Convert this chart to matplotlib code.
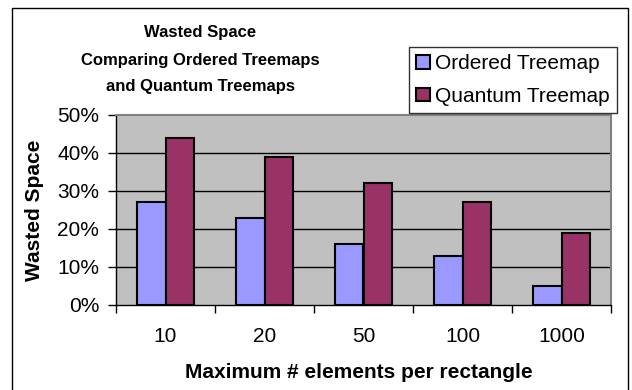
import matplotlib
matplotlib.use("Agg")
import matplotlib.pyplot as plt
import numpy as np
from matplotlib.patches import Rectangle

plt.rcParams['font.family'] = ['Liberation Sans', 'DejaVu Sans']

categories = ["10", "20", "50", "100", "1000"]
ordered = [27, 23, 16, 13, 5]
quantum = [44, 39, 32, 27, 19]
yticks = [0, 10, 20, 30, 40, 50]

W, H = 632, 390
fig = plt.figure(figsize=(W / 100, H / 100), dpi=100)
ax = fig.add_axes([116 / W, 1 - 305 / H, 495 / W, 190 / H])

x = np.arange(len(categories))
width = 0.285
ax.bar(x - width / 2, ordered, width, color="#9999FF", edgecolor="black",
       linewidth=1.5, label="Ordered Treemap", zorder=3)
ax.bar(x + width / 2, quantum, width, color="#993366", edgecolor="black",
       linewidth=1.5, label="Quantum Treemap", zorder=3)

ax.set_facecolor("#C0C0C0")
ax.set_xlim(-0.5, len(categories) - 0.5)
ax.set_ylim(0, 50)
ax.set_yticks(yticks, [f"{v}%" for v in yticks], fontsize=15)
for v in yticks[1:-1]:
    ax.axhline(v, color="black", linewidth=1, zorder=1)

# category ticks at the boundaries, labels in the middle
ax.set_xticks(np.arange(len(categories) + 1) - 0.5)
ax.set_xticklabels([])
ax.set_xticks(x, categories, minor=True, fontsize=15)
ax.tick_params(axis="x", which="minor", length=0, pad=16)
ax.tick_params(axis="x", which="major", length=6, width=1)
ax.tick_params(axis="y", length=6, width=1, pad=6)

for side in ["top", "right"]:
    ax.spines[side].set_color("#808080")
    ax.spines[side].set_linewidth(1.5)
for side in ["left", "bottom"]:
    ax.spines[side].set_color("black")
    ax.spines[side].set_linewidth(1)

ax.set_ylabel("Wasted Space", fontsize=15, fontweight="bold")
ax.yaxis.set_label_coords((44 - 116) / 495, 0.5)
ax.set_xlabel("Maximum # elements per rectangle", fontsize=15,
              fontweight="bold")
ax.xaxis.set_label_coords(0.49, -(363 - 305) / 190)

fig.text(200 / W, 1 - 60 / H,
         "Wasted Space\nComparing Ordered Treemaps\nand Quantum Treemaps",
         ha="center", va="center", fontsize=12, fontweight="bold",
         linespacing=2.0)

leg = fig.legend(loc="upper left", bbox_to_anchor=(409 / W, 1 - 47 / H),
                 fontsize=15, fancybox=False, edgecolor="black",
                 handlelength=0.65, handleheight=0.65, handletextpad=0.25,
                 borderpad=0.35, labelspacing=0.65, borderaxespad=0)
leg.get_frame().set_linewidth(1)

fig.patches.append(Rectangle((12 / W, -0.05), 616 / W, 1.05 - 8 / H,
                             transform=fig.transFigure, fill=False,
                             edgecolor="black", linewidth=1))

fig.savefig("out.png", dpi=100)
